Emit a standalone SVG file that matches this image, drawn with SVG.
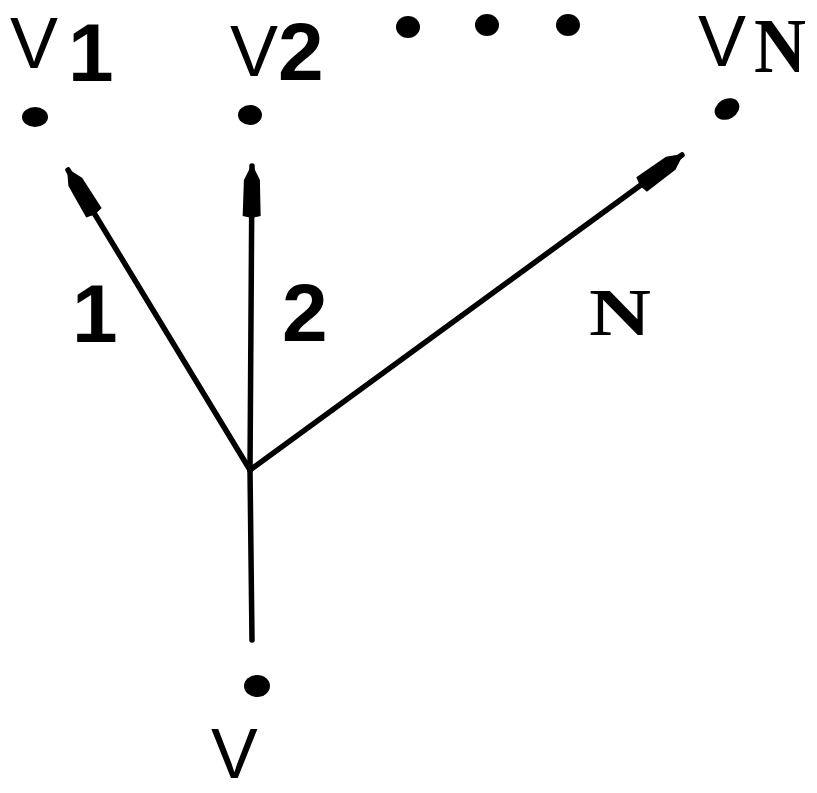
<svg xmlns="http://www.w3.org/2000/svg" width="817" height="793" viewBox="0 0 817 793">
<style>
.lbl{font-family:"Liberation Sans",Arial,sans-serif;fill:#000}
.dig{font-family:"Liberation Sans",Arial,sans-serif;font-weight:bold;fill:#000}
.ser{font-family:"Liberation Serif","Times New Roman",serif;font-weight:bold;fill:#000}
.edge{stroke:#000;stroke-width:5.5;fill:none;stroke-linecap:round}
.dot{fill:#000}
</style>
<defs>
<marker id="ah" markerUnits="userSpaceOnUse" viewBox="-56 -12 60 24" refX="0" refY="0" markerWidth="60" markerHeight="24" orient="auto">
<path d="M2,0 L-14,-8 L-50,-9 L-52,0 L-50,9 L-14,8 Z" fill="#000"/>
</marker>
</defs>
<rect width="817" height="793" fill="#fff"/>
<g id="connectors">
<line class="edge" x1="250" y1="470" x2="68" y2="170" marker-end="url(#ah)"/>
<line class="edge" x1="250" y1="470" x2="252" y2="166" marker-end="url(#ah)"/>
<line class="edge" x1="250" y1="470" x2="682" y2="155" marker-end="url(#ah)"/>
<line class="edge" x1="250" y1="470" x2="252" y2="640"/>
</g>
<g id="node-v1">
<ellipse class="dot" cx="35" cy="117" rx="13" ry="10"/>
<text class="lbl" x="10" y="68" font-size="72">V</text>
<text class="dig" x="68" y="81" font-size="82">1</text>
</g>
<g id="node-v2">
<ellipse class="dot" cx="250" cy="115" rx="12" ry="10"/>
<text class="lbl" x="230" y="76" font-size="72">V</text>
<text class="dig" x="278" y="80" font-size="82">2</text>
</g>
<g id="ellipsis">
<ellipse class="dot" cx="408" cy="27" rx="12" ry="11"/>
<ellipse class="dot" cx="487" cy="25" rx="12" ry="11"/>
<ellipse class="dot" cx="568" cy="25" rx="12" ry="11"/>
</g>
<g id="node-vn">
<ellipse class="dot" cx="727" cy="109" rx="13" ry="10" transform="rotate(-30 727 109)"/>
<text class="lbl" x="698" y="66" font-size="72">V</text>
<text class="ser" x="754" y="72" font-size="78" textLength="52" lengthAdjust="spacingAndGlyphs">N</text>
</g>
<g id="node-v">
<ellipse class="dot" cx="257" cy="686" rx="13" ry="11"/>
<text class="lbl" x="211" y="778" font-size="70">V</text>
</g>
<g id="edge-labels">
<text class="dig" x="72" y="342" font-size="82">1</text>
<text class="dig" x="282" y="341" font-size="82">2</text>
<text class="ser" x="589" y="335" font-size="68" textLength="62" lengthAdjust="spacingAndGlyphs">N</text>
</g>
</svg>
